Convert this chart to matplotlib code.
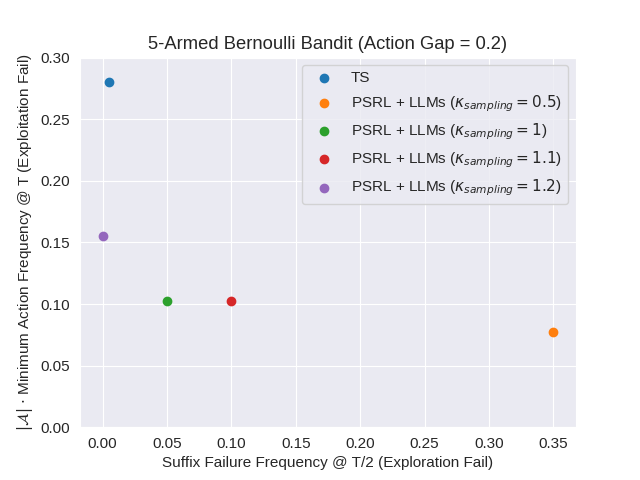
import matplotlib
matplotlib.use('Agg')
import matplotlib.pyplot as plt
import seaborn as sns

# Данные с графика
labels = ['TS',
          r'PSRL + LLMs ($\kappa_{sampling} = 0.5$)',
          r'PSRL + LLMs ($\kappa_{sampling} = 1$)',
          r'PSRL + LLMs ($\kappa_{sampling} = 1.1$)',
          r'PSRL + LLMs ($\kappa_{sampling} = 1.2$)']
suffix_fail = [0.005, 0.35, 0.05, 0.10, 0.0]
min_action_freq = [0.28, 0.077, 0.1025, 0.1025, 0.155]

sns.set_style('darkgrid')
plt.rcParams['font.family'] = 'sans-serif'
plt.rcParams['font.sans-serif'] = ['Liberation Sans', 'DejaVu Sans']
plt.rcParams['font.size'] = 11

fig = plt.figure(figsize=(6.4, 4.8), dpi=100)
for x, y, lab in zip(suffix_fail, min_action_freq, labels):
    plt.scatter(x, y, label=lab)

plt.title('5-Armed Bernoulli Bandit (Action Gap = 0.2)')
plt.xlabel('Suffix Failure Frequency @ T/2 (Exploration Fail)')
plt.ylabel(r'$|\mathcal{A}|$ $\cdot$ Minimum Action Frequency @ T (Exploitation Fail)')
plt.ylim(0, 0.3)
plt.legend()
plt.savefig('out.png')
